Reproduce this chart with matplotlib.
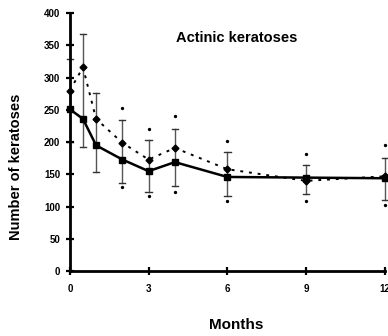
import matplotlib.pyplot as plt

months = [0, 0.5, 1, 2, 3, 4, 6, 9, 12]
treated = [251, 236, 195, 173, 155, 169, 146, 145, 144]
control = [280, 316, 236, 199, 173, 191, 158, 140, 147]
# error bar ends: top cap belongs to the dashed series, bottom cap to the solid one
bar_top = [329, 368, 276, 234, 203, 221, 184, 165, 176]
bar_bottom = [200, 193, 154, 137, 123, 132, 116, 119, 110]
dot_months = [2, 3, 4, 6, 9, 12]
dot_top = [253, 221, 241, 201, 181, 196]
dot_bottom = [130, 116, 122, 108, 109, 102]

plt.rcParams["font.family"] = ["Liberation Sans", "DejaVu Sans"]
plt.rcParams["font.weight"] = "bold"

fig = plt.figure(figsize=(3.88, 3.36), dpi=100)
ax = fig.add_axes([0.18, 0.193, 0.812, 0.768])

for m, hi, lo in zip(months, bar_top, bar_bottom):
    ax.plot([m, m], [lo, hi], color="#555555", lw=1.0, zorder=1)
    ax.plot([m - 0.12, m + 0.12], [hi, hi], color="#333333", lw=1.0, zorder=1)
    ax.plot([m - 0.12, m + 0.12], [lo, lo], color="#333333", lw=1.0, zorder=1)

ax.plot(dot_months, dot_top, ls="none", marker="o", ms=1.4, color="black")
ax.plot(dot_months, dot_bottom, ls="none", marker="o", ms=1.4, color="black")

ax.plot(months, control, color="black", lw=1.4, ls=(0, (1.5, 3)),
        marker="D", ms=3.5, zorder=3)
ax.plot(months, treated, color="black", lw=1.8, ls="-",
        marker="s", ms=4, zorder=3)

ax.set_xlim(0, 12)
ax.set_ylim(0, 400)
ax.set_xticks([0, 3, 6, 9, 12])
ax.set_yticks(range(0, 401, 50))
ax.spines["top"].set_visible(False)
ax.spines["right"].set_visible(False)
for s in ("left", "bottom"):
    ax.spines[s].set_linewidth(2.0)
ax.tick_params(direction="inout", length=6, width=1.6, labelsize=7, pad=4)
ax.tick_params(axis="x", pad=6)
for lab in ax.get_xticklabels() + ax.get_yticklabels():
    lab.set_fontweight("bold")

ax.text(0.53, 0.905, "Actinic keratoses", transform=ax.transAxes,
        fontsize=10.5, fontweight="bold", ha="center", va="center")
fig.text(0.61, 0.033, "Months", fontsize=11, fontweight="bold",
         ha="center", va="center")
fig.text(0.04, 0.505, "Number of keratoses", fontsize=10.5, fontweight="bold",
         rotation=90, ha="center", va="center")

for line in ax.lines:
    line.set_clip_on(False)

fig.savefig("out.png", dpi=100)
